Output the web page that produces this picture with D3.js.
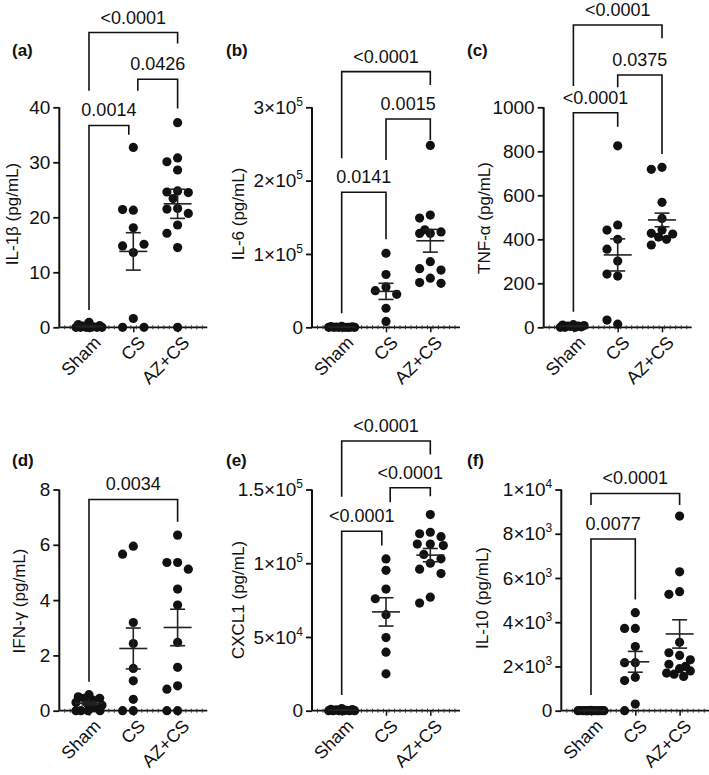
<!DOCTYPE html>
<html><head><meta charset="utf-8">
<script src="https://cdn.jsdelivr.net/npm/d3@7"></script>
<style>body{margin:0;background:#fff}svg{display:block}</style>
</head><body>
<svg id="chart" width="709" height="775"></svg>
<script>
const groups = ["Sham", "CS", "AZ+CS"];

// (a) IL-1β
const il1bSham = [0.9, 0.5, 0.3, 0.2, 0.1, 0, 0, 0, 0, 0, 0, 0];
const il1bCS = [32.7, 21.3, 21.4, 18.1, 13.6, 14.8, 15.1, 1.6, 0, 0];
const il1bAZ = [37.2, 30.8, 30.1, 28.6, 24.8, 24.6, 24.5, 23.4, 21.6, 21.5, 20.7, 18.6, 17.1, 14.5, 0];
const il1bMean = [0.15, 13.8, 22.45];
const il1bSEM = [0.08, 3.4, 2.65];
const il1bTicks = [0, 10, 20, 30, 40];
const il1bTickLabels = ["0", "10", "20", "30", "40"];
const il1bBrackets = [
  {from: "Sham", to: "CS", label: "0.0014", y: 36.7, yFrom: 3.15, yTo: 35.0},
  {from: "CS", to: "AZ+CS", label: "0.0426", y: 45.1, yFrom: 43.0, yTo: 39.8},
  {from: "Sham", to: "AZ+CS", label: "<0.0001", y: 53.6, yFrom: 43.0, yTo: 51.6}
];

// (b) IL-6
const il6Sham = [1200, 800, 500, 300, 0, 0, 0, 0, 0, 0, 0];
const il6CS = [101000, 72000, 55000, 50000, 45000, 26000, 8000];
const il6AZ = [248000, 153000, 149000, 128000, 128000, 130000, 133000, 89500, 80000, 78000, 67000, 61000, 60000];
const il6Mean = [400, 49000, 118000];
const il6SEM = [150, 11000, 15500];
const il6Ticks = [0, 100000, 200000, 300000];
const il6TickLabels = ["0", "1×10^5", "2×10^5", "3×10^5"];
const il6Brackets = [
  {from: "Sham", to: "CS", label: "0.0141", y: 184100, yFrom: 19100, yTo: 120000},
  {from: "CS", to: "AZ+CS", label: "0.0015", y: 284100, yFrom: 228100, yTo: 255400},
  {from: "Sham", to: "AZ+CS", label: "<0.0001", y: 348600, yFrom: 230500, yTo: 330400}
];

// (c) TNF-α
const tnfSham = [12, 10, 8, 6, 5, 4, 2, 0, 0, 0];
const tnfCS = [825, 465, 442, 400, 355, 301, 233, 242, 14, 33];
const tnfAZ = [727, 718, 568, 495, 442, 427, 424, 410, 400, 374];
const tnfMean = [5, 329, 488];
const tnfSEM = [1.5, 73, 31];
const tnfTicks = [0, 200, 400, 600, 800, 1000];
const tnfTickLabels = ["0", "200", "400", "600", "800", "1000"];
const tnfBrackets = [
  {from: "Sham", to: "CS", label: "<0.0001", y: 975, yFrom: 71, yTo: 912},
  {from: "CS", to: "AZ+CS", label: "0.0375", y: 1147, yFrom: 1091, yTo: 788},
  {from: "Sham", to: "AZ+CS", label: "<0.0001", y: 1374, yFrom: 1097, yTo: 1314}
];

// (d) IFN-γ
const ifnSham = [0.58, 0.5, 0.45, 0.45, 0.38, 0.3, 0.25, 0.2, 0.1, 0, 0, 0, 0];
const ifnCS = [5.95, 5.66, 3.19, 2.43, 1.53, 1.08, 0.41, 0, 0];
const ifnAZ = [6.35, 5.36, 5.36, 5.12, 4.40, 3.82, 2.47, 1.57, 0.90, 0.78, 0, 0];
const ifnMean = [0.27, 2.25, 3.01];
const ifnSEM = [0.06, 0.74, 0.66];
const ifnTicks = [0, 2, 4, 6, 8];
const ifnTickLabels = ["0", "2", "4", "6", "8"];
const ifnBrackets = [
  {from: "Sham", to: "AZ+CS", label: "0.0034", y: 7.64, yFrom: 1.05, yTo: 6.83}
];

// (e) CXCL1
const cxclSham = [1500, 1000, 800, 500, 300, 0, 0, 0, 0, 0, 0];
const cxclCS = [102900, 95200, 82500, 75900, 65100, 49600, 39700, 25000];
const cxclAZ = [133000, 121000, 120000, 118000, 113000, 113000, 112000, 106000, 103000, 100000, 96000, 93000, 77000, 73000];
const cxclMean = [400, 67000, 105500];
const cxclSEM = [100, 9600, 4500];
const cxclTicks = [0, 50000, 100000, 150000];
const cxclTickLabels = ["0", "5×10^4", "1×10^5", "1.5×10^5"];
const cxclBrackets = [
  {from: "Sham", to: "CS", label: "<0.0001", y: 121700, yFrom: 10700, yTo: 112000},
  {from: "CS", to: "AZ+CS", label: "<0.0001", y: 151200, yFrom: 141400, yTo: 145500},
  {from: "Sham", to: "AZ+CS", label: "<0.0001", y: 182900, yFrom: 145100, yTo: 173800}
];

// (f) IL-10
const il10Sham = [20, 10, 0, 0, 0, 0, 0, 0, 0, 0, 0, 0];
const il10CS = [4430, 3720, 3720, 2900, 2170, 2170, 1510, 1360, 300, 0];
const il10AZ = [8800, 6280, 5380, 5260, 3090, 2620, 2500, 2300, 2100, 1900, 1800, 1700, 1650, 1550, 2000];
const il10Mean = [10, 2210, 3470];
const il10SEM = [3, 470, 640];
const il10Ticks = [0, 2000, 4000, 6000, 8000, 10000];
const il10TickLabels = ["0", "2×10^3", "4×10^3", "6×10^3", "8×10^3", "1×10^4"];
const il10Brackets = [
  {from: "Sham", to: "CS", label: "0.0077", y: 7760, yFrom: 710, yTo: 5030},
  {from: "Sham", to: "AZ+CS", label: "<0.0001", y: 9820, yFrom: 9300, yTo: 9300}
];

const panels = [
  {id: "a", tag: "(a)", title: "IL-1β (pg/mL)", vals: [il1bSham, il1bCS, il1bAZ], mean: il1bMean, sem: il1bSEM, ticks: il1bTicks, tickLabels: il1bTickLabels, brackets: il1bBrackets, max: 40},
  {id: "b", tag: "(b)", title: "IL-6 (pg/mL)", vals: [il6Sham, il6CS, il6AZ], mean: il6Mean, sem: il6SEM, ticks: il6Ticks, tickLabels: il6TickLabels, brackets: il6Brackets, max: 300000},
  {id: "c", tag: "(c)", title: "TNF-α (pg/mL)", vals: [tnfSham, tnfCS, tnfAZ], mean: tnfMean, sem: tnfSEM, ticks: tnfTicks, tickLabels: tnfTickLabels, brackets: tnfBrackets, max: 1000},
  {id: "d", tag: "(d)", title: "IFN-γ (pg/mL)", vals: [ifnSham, ifnCS, ifnAZ], mean: ifnMean, sem: ifnSEM, ticks: ifnTicks, tickLabels: ifnTickLabels, brackets: ifnBrackets, max: 8},
  {id: "e", tag: "(e)", title: "CXCL1 (pg/mL)", vals: [cxclSham, cxclCS, cxclAZ], mean: cxclMean, sem: cxclSEM, ticks: cxclTicks, tickLabels: cxclTickLabels, brackets: cxclBrackets, max: 150000},
  {id: "f", tag: "(f)", title: "IL-10 (pg/mL)", vals: [il10Sham, il10CS, il10AZ], mean: il10Mean, sem: il10SEM, ticks: il10Ticks, tickLabels: il10TickLabels, brackets: il10Brackets, max: 10000}
];

// layout (pixel positions / styles)
const layout = {
  a: {ax: 59.3, top: 107.3, bottom: 327.3, lx: 12, ly: 56, tx: 18, ty: 214, gap: 4.5},
  b: {ax: 312, top: 107.3, bottom: 327.3, lx: 226, ly: 56, tx: 244, ty: 214, gap: 0},
  c: {ax: 543.7, top: 107.3, bottom: 327.3, lx: 467, ly: 56, tx: 490, ty: 218, gap: 0},
  d: {ax: 59.3, top: 489.5, bottom: 710.7, lx: 12, ly: 466, tx: 25, ty: 601, gap: 0},
  e: {ax: 312, top: 489.5, bottom: 710.7, lx: 226, ly: 466, tx: 244, ty: 600, gap: 4.2},
  f: {ax: 561.3, top: 489.5, bottom: 710.7, lx: 467, ly: 466, tx: 488, ty: 598, gap: 0}
};
const FONT = "'Liberation Sans', Arial, Helvetica, sans-serif";
const INK = "#111";
const R = 4.6, STEP = 10.7, MAXW = 13, XLEN = 148;

const svg = d3.select("#chart");

function swarm(values, y, cx) {
  const placed = [];
  return values.map(v => {
    const py = y(v);
    const cands = [0];
    for (let k = 1; k * STEP <= MAXW + 0.01; k++) cands.push(-k * STEP, k * STEP);
    let off = null;
    for (const o of cands) {
      if (placed.every(p => Math.hypot(p.x - o, p.y - py) >= STEP - 0.01)) { off = o; break; }
    }
    if (off === null) {
      let best = -1;
      for (let o = -MAXW; o <= MAXW + 0.001; o += 0.5) {
        const m = d3.min(placed, p => Math.hypot(p.x - o, p.y - py));
        if (m > best + 0.01) { best = m; off = o; }
      }
    }
    placed.push({x: off, y: py});
    return {x: cx + off, y: py};
  });
}

function setLabel(sel, str, supSize, supDy) {
  const parts = str.split("^");
  sel.text(parts[0]);
  if (parts.length > 1) sel.append("tspan").attr("dy", supDy).attr("font-size", supSize).text(parts[1]);
}

panels.forEach(p => {
  const L = layout[p.id];
  const g = svg.append("g");
  const y = d3.scaleLinear().domain([0, p.max]).range([L.bottom, L.top]);
  const x = d3.scalePoint().domain(groups).range([L.ax, L.ax + XLEN]).padding(0.67);

  // panel tag
  g.append("text").attr("x", L.lx).attr("y", L.ly).attr("font-family", FONT)
    .attr("font-weight", "bold").attr("font-size", 17).attr("fill", INK).text(p.tag);

  // y axis title
  g.append("text").attr("transform", `translate(${L.tx},${L.ty}) rotate(-90)`)
    .attr("text-anchor", "middle").attr("font-family", FONT).attr("font-size", 17)
    .attr("fill", INK).text(p.title);

  // y axis
  const yAxis = d3.axisLeft(y).tickValues(p.ticks).tickSize(6).tickPadding(4).tickFormat(() => "");
  const ya = g.append("g").attr("transform", `translate(${L.ax},0)`).call(yAxis);
  ya.select(".domain").attr("stroke", INK).attr("stroke-width", 2).attr("d", `M0,${L.top}V${L.bottom}`);
  ya.selectAll(".tick line").attr("stroke", INK).attr("stroke-width", 1.8);
  ya.selectAll(".tick text").each(function(d, i) {
    const t = d3.select(this).attr("font-family", FONT).attr("font-size", 19).attr("fill", INK).attr("x", -9);
    setLabel(t, p.tickLabels[i], 12, -8);
  });

  // x axis line + minor ticks
  const xa = g.append("g");
  xa.append("line").attr("x1", L.ax).attr("x2", L.ax + XLEN).attr("y1", L.bottom).attr("y2", L.bottom)
    .attr("stroke", INK).attr("stroke-width", 1.8);
  const minor = d3.range(L.ax + 5.5, L.ax + XLEN, 5.5);
  xa.selectAll("line.minor").data(minor).join("line").attr("class", "minor")
    .attr("x1", d => d).attr("x2", d => d).attr("y1", L.bottom - 2).attr("y2", L.bottom + 2)
    .attr("stroke", "#333").attr("stroke-width", 1);
  const xAxis = d3.axisBottom(x).tickSize(5).tickPadding(0).tickFormat(() => "");
  const xg = g.append("g").attr("transform", `translate(0,${L.bottom})`).call(xAxis);
  xg.select(".domain").remove();
  xg.selectAll(".tick line").attr("stroke", INK).attr("stroke-width", 1.5);
  xg.selectAll(".tick").append("text")
    .attr("transform", "translate(8,12) rotate(-45)")
    .attr("text-anchor", "end").attr("dy", "0.35em").attr("fill", INK)
    .attr("font-family", FONT).attr("font-size", 18).text(d => d);

  // points
  groups.forEach((grp, gi) => {
    const pts = swarm(p.vals[gi], y, x(grp));
    g.append("g").selectAll("circle").data(pts).join("circle")
      .attr("cx", d => d.x).attr("cy", d => d.y).attr("r", R).attr("fill", INK);
  });

  // mean & SEM
  groups.forEach((grp, gi) => {
    const cx = x(grp), m = p.mean[gi], s = p.sem[gi];
    const mg = g.append("g").attr("stroke", "#222").attr("stroke-width", 1.6);
    mg.append("line").attr("x1", cx - 14).attr("x2", cx + 14).attr("y1", y(m)).attr("y2", y(m));
    mg.append("line").attr("x1", cx).attr("x2", cx).attr("y1", y(m - s)).attr("y2", y(m + s));
    [m - s, m + s].forEach(v => mg.append("line").attr("x1", cx - 7.5).attr("x2", cx + 7.5).attr("y1", y(v)).attr("y2", y(v)));
  });

  // brackets
  p.brackets.forEach(b => {
    let x1 = x(b.from), x2 = x(b.to);
    if (p.brackets.some(o => o !== b && o.to === b.from)) x1 += L.gap;
    if (p.brackets.some(o => o !== b && o.from === b.to)) x2 -= L.gap;
    g.append("path").attr("fill", "none").attr("stroke", INK).attr("stroke-width", 1.6)
      .attr("d", `M${x1},${y(b.yFrom)}V${y(b.y)}H${x2}V${y(b.yTo)}`);
    g.append("text").attr("x", (x1 + x2) / 2).attr("y", y(b.y) - 9).attr("text-anchor", "middle")
      .attr("font-family", FONT).attr("font-size", 18).attr("fill", INK).text(b.label);
  });
});
</script>
</body></html>
